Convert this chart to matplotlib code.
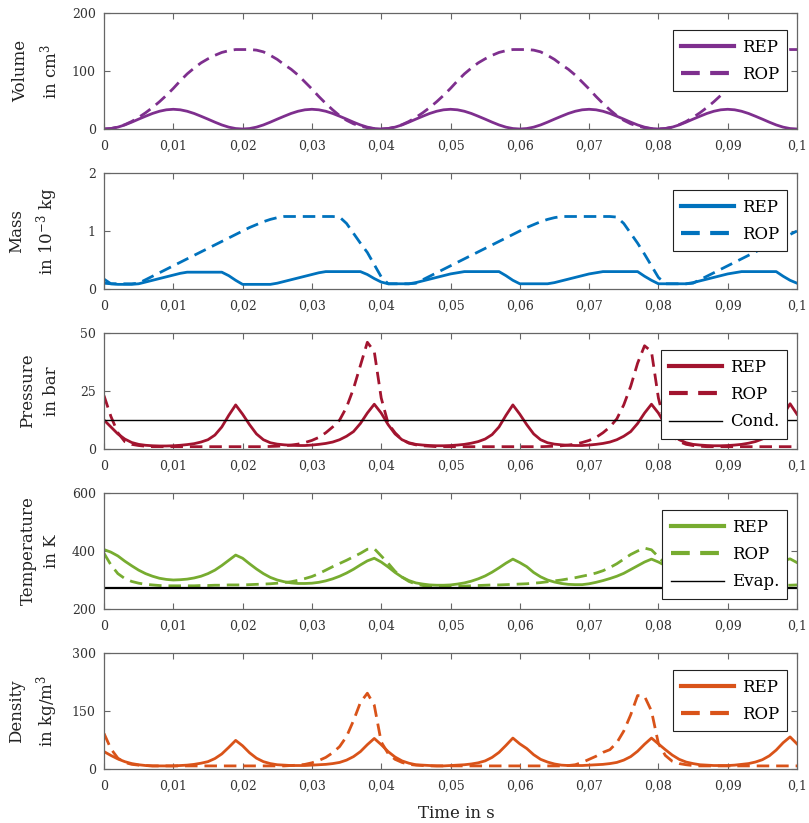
import numpy as np
import matplotlib
matplotlib.use('Agg')
import matplotlib.pyplot as plt

plt.rcParams['font.family'] = ['DejaVu Serif']
plt.rcParams['mathtext.fontset'] = 'dejavuserif'

# time axis, 1 ms steps, 0 ... 0.1 s
time_s = np.round(np.arange(0, 101) * 0.001, 3)

xtick_vals = [0, 0.01, 0.02, 0.03, 0.04, 0.05, 0.06, 0.07, 0.08, 0.09, 0.1]
xtick_labels = ['0', '0,01', '0,02', '0,03', '0,04', '0,05', '0,06', '0,07', '0,08', '0,09', '0,1']

# Volume in cm^3
vol_rep = [0, 0.8, 3.2, 7.0, 11.8, 17.0, 22.0, 26.8, 30.6, 33.1, 34.0, 33.1, 30.6, 26.8, 22.0, 17.0, 11.8, 7.0, 3.2, 0.8,
           0, 0.8, 3.2, 7.0, 11.8, 17.0, 22.0, 26.8, 30.6, 33.1, 34.0, 33.1, 30.6, 26.8, 22.0, 17.0, 11.8, 7.0, 3.2, 0.8,
           0, 0.8, 3.2, 7.0, 11.8, 17.0, 22.0, 26.8, 30.6, 33.1, 34.0, 33.1, 30.6, 26.8, 22.0, 17.0, 11.8, 7.0, 3.2, 0.8,
           0, 0.8, 3.2, 7.0, 11.8, 17.0, 22.0, 26.8, 30.6, 33.1, 34.0, 33.1, 30.6, 26.8, 22.0, 17.0, 11.8, 7.0, 3.2, 0.8,
           0, 0.8, 3.2, 7.0, 11.8, 17.0, 22.0, 26.8, 30.6, 33.1, 34.0, 33.1, 30.6, 26.8, 22.0, 17.0, 11.8, 7.0, 3.2, 0.8,
           0]
vol_rop = [0, 0.8, 3.3, 7.5, 13, 20, 28, 37, 47, 58, 70, 83, 95, 105, 114, 121, 127, 132, 135, 137,
           137, 137, 136, 133, 127, 120, 111, 103, 93, 81, 69, 56, 44, 33, 23, 15, 9, 5, 2.2, 0.5,
           0, 0.8, 3.3, 7.5, 13, 20, 28, 37, 47, 58, 70, 83, 95, 105, 114, 121, 127, 132, 135, 137,
           137, 137, 136, 133, 127, 120, 111, 103, 93, 81, 69, 56, 44, 33, 23, 15, 9, 5, 2.2, 0.5,
           0, 0.8, 3.3, 7.5, 13, 20, 28, 37, 47, 58, 70, 83, 95, 105, 114, 121, 127, 132, 135, 137,
           137]

# Mass in 10^-3 kg
mass_rep = [0.17, 0.09, 0.08, 0.08, 0.08, 0.09, 0.12, 0.15, 0.18, 0.21, 0.24, 0.27, 0.29, 0.29, 0.29, 0.29, 0.29, 0.29, 0.23, 0.15,
            0.08, 0.08, 0.08, 0.08, 0.08, 0.10, 0.13, 0.16, 0.19, 0.22, 0.25, 0.28, 0.30, 0.30, 0.30, 0.30, 0.30, 0.30, 0.25, 0.18,
            0.12, 0.09, 0.09, 0.09, 0.09, 0.11, 0.14, 0.17, 0.20, 0.23, 0.26, 0.28, 0.30, 0.30, 0.30, 0.30, 0.30, 0.30, 0.23, 0.15,
            0.09, 0.09, 0.09, 0.09, 0.09, 0.11, 0.14, 0.17, 0.20, 0.23, 0.26, 0.28, 0.30, 0.30, 0.30, 0.30, 0.30, 0.30, 0.22, 0.15,
            0.09, 0.09, 0.09, 0.09, 0.09, 0.11, 0.14, 0.17, 0.20, 0.23, 0.26, 0.28, 0.30, 0.30, 0.30, 0.30, 0.30, 0.30, 0.22, 0.15,
            0.10]
mass_rop = [0.10, 0.09, 0.09, 0.09, 0.09, 0.10, 0.16, 0.22, 0.28, 0.34, 0.40, 0.46, 0.52, 0.58, 0.64, 0.70, 0.76, 0.82, 0.88, 0.94,
            1.00, 1.06, 1.11, 1.16, 1.20, 1.23, 1.25, 1.25, 1.25, 1.25, 1.25, 1.25, 1.25, 1.25, 1.24, 1.13, 0.96, 0.79, 0.63, 0.42,
            0.21, 0.09, 0.09, 0.09, 0.09, 0.10, 0.16, 0.22, 0.28, 0.34, 0.40, 0.46, 0.52, 0.58, 0.64, 0.70, 0.76, 0.82, 0.88, 0.94,
            1.00, 1.06, 1.11, 1.16, 1.20, 1.23, 1.25, 1.25, 1.25, 1.25, 1.25, 1.25, 1.25, 1.25, 1.24, 1.13, 0.96, 0.79, 0.60, 0.40,
            0.20, 0.09, 0.09, 0.09, 0.09, 0.10, 0.16, 0.22, 0.28, 0.34, 0.40, 0.46, 0.52, 0.58, 0.64, 0.70, 0.76, 0.82, 0.88, 0.94,
            1.00]

# Pressure in bar
p_rep = [12.5, 9.5, 6.5, 4.3, 2.8, 2.0, 1.6, 1.4, 1.3, 1.3, 1.4, 1.6, 1.9, 2.3, 3.0, 4.0, 6.0, 9.5, 14.5, 19.0,
         15.0, 10.5, 6.5, 4.0, 2.7, 2.1, 1.8, 1.6, 1.5, 1.5, 1.7, 2.0, 2.4, 3.0, 4.0, 5.5, 7.5, 11.0, 15.5, 19.3,
         15.5, 10.5, 6.5, 4.0, 2.7, 2.0, 1.7, 1.5, 1.4, 1.4, 1.5, 1.7, 2.0, 2.5, 3.2, 4.3, 6.2, 9.5, 14.5, 19.0,
         15.0, 10.5, 6.5, 4.0, 2.7, 2.1, 1.8, 1.6, 1.5, 1.5, 1.7, 2.0, 2.4, 3.0, 4.0, 5.5, 7.5, 11.0, 15.5, 19.3,
         15.5, 10.5, 6.5, 4.0, 2.7, 2.0, 1.7, 1.5, 1.4, 1.4, 1.5, 1.7, 2.0, 2.5, 3.2, 4.3, 6.2, 9.5, 14.5, 19.5,
         15.0]
p_rop = [23, 14, 7, 3.2, 2.0, 1.5, 1.2, 1.0, 1.0, 1.0, 1.0, 1.0, 1.0, 1.0, 1.0, 1.0, 1.0, 1.0, 1.0, 1.0,
         1.0, 1.0, 1.0, 1.0, 1.1, 1.2, 1.4, 1.7, 2.1, 2.8, 3.7, 5.0, 7.0, 9.5, 12.5, 18, 26, 36, 46, 42,
         22, 11, 7, 4, 2.5, 1.8, 1.4, 1.2, 1.0, 1.0, 1.0, 1.0, 1.0, 1.0, 1.0, 1.0, 1.0, 1.0, 1.0, 1.0,
         1.0, 1.0, 1.0, 1.0, 1.1, 1.2, 1.4, 1.7, 2.1, 2.8, 3.7, 5.0, 7.0, 9.5, 13, 19, 27, 37, 44.5, 42,
         22, 10, 5.5, 3.2, 2.0, 1.5, 1.2, 1.0, 1.0, 1.0, 1.0, 1.0, 1.0, 1.0, 1.0, 1.0, 1.0, 1.0, 1.0, 1.0,
         1.0]
p_cond = 12.5

# Temperature in K
T_rep = [405, 396, 383, 365, 349, 334, 322, 313, 306, 302, 300, 301, 303, 307, 313, 322, 334, 350, 368, 386,
         375, 356, 338, 322, 309, 300, 294, 290, 288, 288, 289, 292, 297, 304, 313, 324, 337, 352, 366, 375,
         362, 345, 326, 310, 298, 290, 286, 283, 282, 282, 283, 286, 290, 296, 304, 314, 327, 342, 358, 372,
         360, 346, 326, 311, 300, 293, 288, 285, 284, 284, 287, 292, 298, 305, 313, 323, 336, 349, 362, 372,
         362, 350, 336, 321, 308, 298, 291, 287, 285, 285, 287, 290, 295, 302, 312, 324, 338, 352, 366, 373,
         360]
T_rop = [392, 352, 322, 305, 295, 289, 285, 283, 281, 280, 280, 280, 280, 280, 281, 281, 282, 282, 283, 283,
         283, 284, 285, 286, 287, 289, 291, 294, 299, 305, 312, 322, 334, 346, 357, 368, 380, 392, 406, 408,
         383, 358, 330, 310, 295, 286, 281, 278, 277, 277, 277, 278, 279, 280, 281, 282, 283, 283, 284, 285,
         286, 287, 289, 291, 294, 297, 300, 304, 308, 313, 318, 324, 332, 343, 356, 372, 388, 400, 410, 404,
         380, 355, 332, 312, 298, 289, 284, 281, 280, 279, 279, 279, 279, 280, 280, 280, 281, 281, 282, 282,
         283]
T_evap = 273

# Density in kg/m^3
rho_rep = [45, 35, 26, 19, 14, 11, 9, 8, 8, 8, 8, 9, 10, 12, 15, 19, 27, 39, 56, 74,
           60, 42, 28, 19, 14, 11, 10, 9, 9, 9, 10, 11, 12, 14, 17, 23, 32, 45, 63, 79,
           63, 45, 31, 21, 15, 11, 10, 9, 8, 8, 9, 10, 11, 13, 16, 21, 30, 43, 61, 80,
           65, 53, 37, 25, 18, 13, 10, 9, 9, 9, 10, 11, 12, 14, 17, 23, 32, 46, 64, 80,
           65, 50, 36, 25, 18, 14, 11, 10, 9, 9, 9, 10, 12, 14, 18, 24, 34, 49, 68, 83,
           65]
rho_rop = [92, 52, 28, 17, 12, 10, 9, 8, 8, 8, 8, 8, 8, 8, 8, 8, 8, 8, 8, 8,
           8, 8, 8, 8, 8, 8, 8, 9, 10, 12, 16, 22, 30, 42, 58, 84, 125, 172, 196, 165,
           70, 40, 25, 17, 12, 10, 9, 8, 8, 8, 8, 8, 8, 8, 8, 8, 8, 8, 8, 8,
           8, 8, 8, 8, 8, 8, 8, 9, 11, 17, 25, 33, 43, 50, 68, 98, 140, 190, 188, 150,
           66, 35, 20, 14, 11, 9, 8, 8, 8, 8, 8, 8, 8, 8, 8, 8, 8, 8, 8, 8,
           8]

# panels: (rep, rop, colour, ylabel, yticks, reference line)
panels = [
    (vol_rep, vol_rop, '#7E2F8E', 'Volume\nin cm$^3$', [0, 100, 200], None),
    (mass_rep, mass_rop, '#0072BD', 'Mass\nin 10$^{-3}$ kg', [0, 1, 2], None),
    (p_rep, p_rop, '#A2142F', 'Pressure\nin bar', [0, 25, 50], (p_cond, 'Cond.', 1.0)),
    (T_rep, T_rop, '#77AC30', 'Temperature\nin K', [200, 400, 600], (T_evap, 'Evap.', 1.6)),
    (rho_rep, rho_rop, '#D95319', 'Density\nin kg/m$^3$', [0, 150, 300], None),
]

W, H = 809, 823
fig = plt.figure(figsize=(W / 100, H / 100), dpi=100)
tops = [13, 173, 333, 493, 653]
ax_h = 116

for (rep, rop, col, ylab, yt, ref), top in zip(panels, tops):
    ax = fig.add_axes([104 / W, 1 - (top + ax_h) / H, 693 / W, ax_h / H])
    ax.plot(time_s, rep, color=col, lw=2.0, label='REP')
    ax.plot(time_s, rop, color=col, lw=2.0, ls=(0, (4.5, 2.5)), label='ROP')
    if ref is not None:
        ax.axhline(ref[0], color='black', lw=ref[2], label=ref[1])
    ax.set_xlim(0, 0.1)
    ax.set_ylim(yt[0], yt[-1])
    ax.set_yticks(yt)
    ax.set_xticks(xtick_vals)
    ax.set_xticklabels(xtick_labels)
    ax.tick_params(direction='in', top=True, right=True, length=4.5, width=0.8,
                   color='#666666', labelcolor='#333333', labelsize=9)
    ax.tick_params(axis='x', pad=8)
    ax.tick_params(axis='y', pad=6)
    for s in ax.spines.values():
        s.set_color('#666666'); s.set_linewidth(0.9)
    ax.set_ylabel(ylab, fontsize=12, color='#222222', linespacing=1.5)
    ax.yaxis.set_label_coords(-0.0635, 0.5)
    leg = ax.legend(loc='upper right', bbox_to_anchor=(0.986, 0.85), borderaxespad=0,
                    fontsize=12, handlelength=3.2, handletextpad=0.45, labelspacing=0.62,
                    borderpad=0.5, fancybox=False, framealpha=1)
    leg.get_frame().set_edgecolor('#222222'); leg.get_frame().set_linewidth(0.8)
    for ln in leg.get_lines()[:2]:
        ln.set_linewidth(3.0)
    if ref is not None:
        leg.get_lines()[2].set_linewidth(1.0)

fig.text(456 / W, 1 - 818 / H, 'Time in s', ha='center', va='baseline', fontsize=12, color='#222222')
fig.savefig('out.png', dpi=100)
